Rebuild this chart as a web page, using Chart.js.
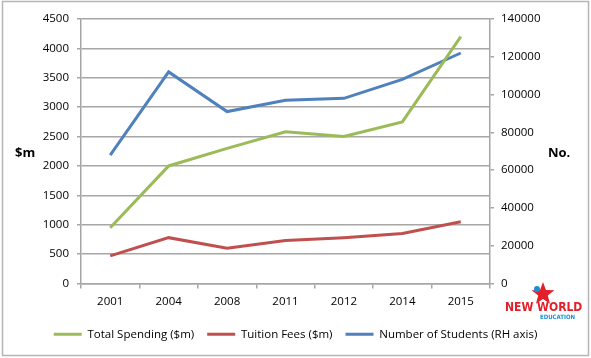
<!DOCTYPE html>
<html>
<head>
<meta charset="utf-8">
<script src="https://cdn.jsdelivr.net/npm/chart.js@4/dist/chart.umd.min.js"></script>
<style>
  html, body { margin: 0; padding: 0; background: #fff; }
  #wrap { position: relative; width: 591px; height: 358px; }
</style>
</head>
<body>
<div id="wrap"><canvas id="chart" width="591" height="358"></canvas></div>
<script>
// data
const years = ['2001', '2004', '2008', '2011', '2012', '2014', '2015'];
const totalSpending = [950, 2000, 2300, 2580, 2500, 2750, 4200];
const tuitionFees = [470, 780, 600, 730, 780, 850, 1050];
const students = [68000, 112000, 91000, 97000, 98000, 108000, 122000];

const FONT = '"Open Sans", sans-serif';
const GRID = '#a6a6a6';

// frame, axis captions and the little logo
const extras = {
    id: 'extras',
    beforeDraw(chart) {
        const c = chart.ctx;
        c.save();
        c.fillStyle = '#fff';
        c.fillRect(0, 0, chart.width, chart.height);
        c.restore();
    },
    afterDraw(chart) {
        const c = chart.ctx;
        c.save();
        c.strokeStyle = '#b5b5b5';
        c.lineWidth = 1.5;
        c.strokeRect(2.5, 1.5, 586, 354);

        c.fillStyle = '#000';
        c.font = 'bold 13px ' + FONT;
        c.textBaseline = 'middle';
        c.textAlign = 'left';
        c.fillText('$m', 15, 153);
        c.fillText('No.', 548, 153);

        // logo
        c.fillStyle = '#e3202a';
        c.beginPath();
        const cx = 543, cy = 294;
        for (let i = 0; i < 10; i++) {
            const r = i % 2 === 0 ? 12 : 5;
            const ang = -Math.PI / 2 + i * Math.PI / 5;
            const px = cx + r * Math.cos(ang), py = cy + r * Math.sin(ang);
            if (i === 0) c.moveTo(px, py); else c.lineTo(px, py);
        }
        c.closePath();
        c.fill();
        c.fillStyle = '#1a8fd6';
        c.beginPath();
        c.arc(537, 289, 3, 0, Math.PI * 2);
        c.fill();
        c.font = 'bold 12px "DejaVu Sans Condensed", sans-serif';
        c.fillStyle = '#e3202a';
        c.fillText('NEW WORLD', 505, 308);
        c.font = 'bold 6px "DejaVu Sans Condensed", sans-serif';
        c.fillStyle = '#1a8fd6';
        c.fillText('EDUCATION', 540, 317);
        c.restore();
    }
};

function line(label, data, color, axis) {
    return {
        label: label,
        data: data,
        yAxisID: axis,
        borderColor: color,
        backgroundColor: color,
        borderWidth: 3,
        pointRadius: 0,
        tension: 0,
        fill: false
    };
}

const plain = v => String(v);

new Chart(document.getElementById('chart'), {
    type: 'line',
    data: {
        labels: years,
        datasets: [
            line('Total Spending ($m)', totalSpending, '#9bbb59', 'y'),
            line('Tuition Fees ($m)', tuitionFees, '#c0504d', 'y'),
            line('Number of Students (RH axis)', students, '#4f81bd', 'y2')
        ]
    },
    options: {
        responsive: false,
        animation: false,
        layout: { padding: { top: 19, left: 0, right: 0, bottom: 8 } },
        plugins: {
            tooltip: { enabled: false },
            legend: {
                position: 'bottom',
                labels: {
                    boxWidth: 28,
                    boxHeight: 3,
                    padding: 13,
                    color: '#000',
                    font: { family: FONT, size: 11.5 },
                    generateLabels(chart) {
                        const items = Chart.defaults.plugins.legend.labels.generateLabels(chart);
                        items.forEach(it => { it.lineWidth = 0; });
                        return items;
                    }
                }
            }
        },
        scales: {
            x: {
                offset: true,
                grid: { offset: true, drawOnChartArea: false, drawTicks: true, tickLength: 5, color: GRID, lineWidth: 1.5 },
                border: { color: GRID, width: 1.5 },
                ticks: { color: '#000', font: { family: FONT, size: 11.5 }, padding: 6 },
                afterFit(s) { s.height = 32; }
            },
            y: {
                position: 'left',
                min: 0, max: 4500,
                ticks: { stepSize: 500, color: '#000', font: { family: FONT, size: 11.5 }, padding: 8, callback: plain },
                grid: { color: GRID, lineWidth: 1.5, tickLength: 4 },
                border: { color: GRID, width: 1.5 },
                afterFit(s) { s.width = 81; }
            },
            y2: {
                position: 'right',
                min: 0, max: 140000,
                ticks: { stepSize: 20000, color: '#000', font: { family: FONT, size: 11.5 }, padding: 7, callback: plain },
                grid: { drawOnChartArea: false, color: GRID, lineWidth: 1.5, tickLength: 4 },
                border: { color: GRID, width: 1.5 },
                afterFit(s) { s.width = 101; }
            }
        }
    },
    plugins: [extras]
});
</script>
</body>
</html>
